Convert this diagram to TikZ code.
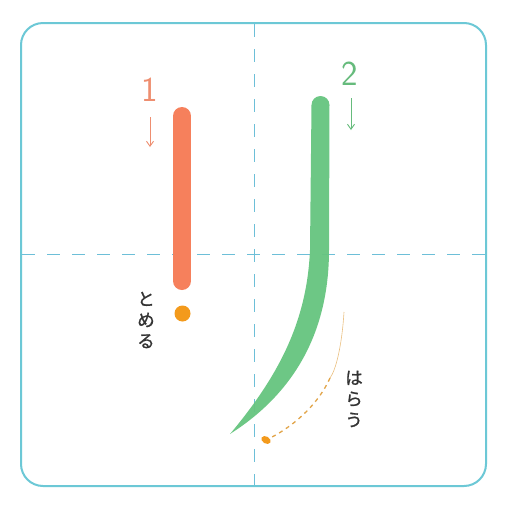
\documentclass[tikz,border=0pt]{standalone}
\usepackage{fontspec}
\newfontfamily\jp[FakeBold=1.2]{Noto Sans CJK JP}
\usetikzlibrary{arrows.meta}
\definecolor{frame}{HTML}{6CC8D6}
\definecolor{grid}{HTML}{6DBFD8}
\definecolor{barred}{HTML}{F6805C}
\definecolor{dotorange}{HTML}{F39A1C}
\definecolor{strokegreen}{HTML}{66C47F}
\definecolor{numred}{HTML}{EE8E70}
\definecolor{numgreen}{HTML}{66BB7C}
\definecolor{sweep}{HTML}{E2A54A}
\definecolor{txt}{HTML}{333333}
\tikzset{
  guideline/.style={draw=grid, line width=1pt, dash pattern=on 13pt off 12pt},
  framebox/.style={draw=frame, line width=2pt, rounded corners=22pt},
  numlabel/.style={font=\sffamily\fontsize{35}{35}\selectfont, inner sep=0pt},
  orderarrow/.style={line width=0.9pt, -{Straight Barb[length=5pt,width=7pt]}},
  vtext/.style={font=\jp\fontsize{17.5}{21}\selectfont, text=txt, align=center, inner sep=0pt}
}
\begin{document}
\begin{tikzpicture}[x=1pt,y=-1pt]
\useasboundingbox (0,0) rectangle (512,512);
\fill[white] (0,0) rectangle (512,512);
% frame
\draw[framebox] (21,23) rectangle (486,486);
% guide lines
\coordinate (hl) at (22,254);
\coordinate (hr) at (485,254);
\coordinate (vt) at (254,24);
\coordinate (vb) at (254,485);
\draw[guideline] (hl) -- (hr);
\draw[guideline] (vt) -- (vb);
% stroke 1
\coordinate (s1top) at (182,116);
\coordinate (s1bot) at (182,281);
\draw[barred, line width=18pt, line cap=round] (s1top) -- (s1bot);
\node[circle, fill=dotorange, minimum size=16pt, inner sep=0pt] (stopdot) at (182.5,313.5) {};
\node[numlabel, text=numred] (n1) at (150,90) {1};
\coordinate (a1s) at (150,117);
\coordinate (a1e) at (150,147);
\draw[orderarrow, draw=numred] (a1s) -- (a1e);
\node[vtext] (tomeru) at (146,320) {と\\め\\る};
% stroke 2
\fill[strokegreen, opacity=0.95] (311.5,105) -- (310,250)
  .. controls (307,318) and (282,372) .. (230,434)
  .. controls (296,392) and (329,330) .. (329,250)
  -- (329.5,105) arc[start angle=0, end angle=180, radius=9pt] -- cycle;
\node[numlabel, text=numgreen] (n2) at (350,74) {2};
\coordinate (a2s) at (351,98);
\coordinate (a2e) at (351,130);
\draw[orderarrow, draw=numgreen] (a2s) -- (a2e);
% sweep guide
\coordinate (sw1) at (344,312);
\coordinate (sw2) at (266,440);
\draw[sweep!70, line width=0.6pt] (sw1) .. controls (342,345) and (336,370) .. (330,378);
\draw[sweep, line width=1.3pt, dash pattern=on 4pt off 4pt] (330,378) .. controls (318,405) and (292,428) .. (sw2);
\fill[dotorange] (sw2) ellipse[x radius=5pt, y radius=3.5pt, rotate=-30];
\node[vtext] (harau) at (354,399) {は\\ら\\う};
\end{tikzpicture}
\end{document}
